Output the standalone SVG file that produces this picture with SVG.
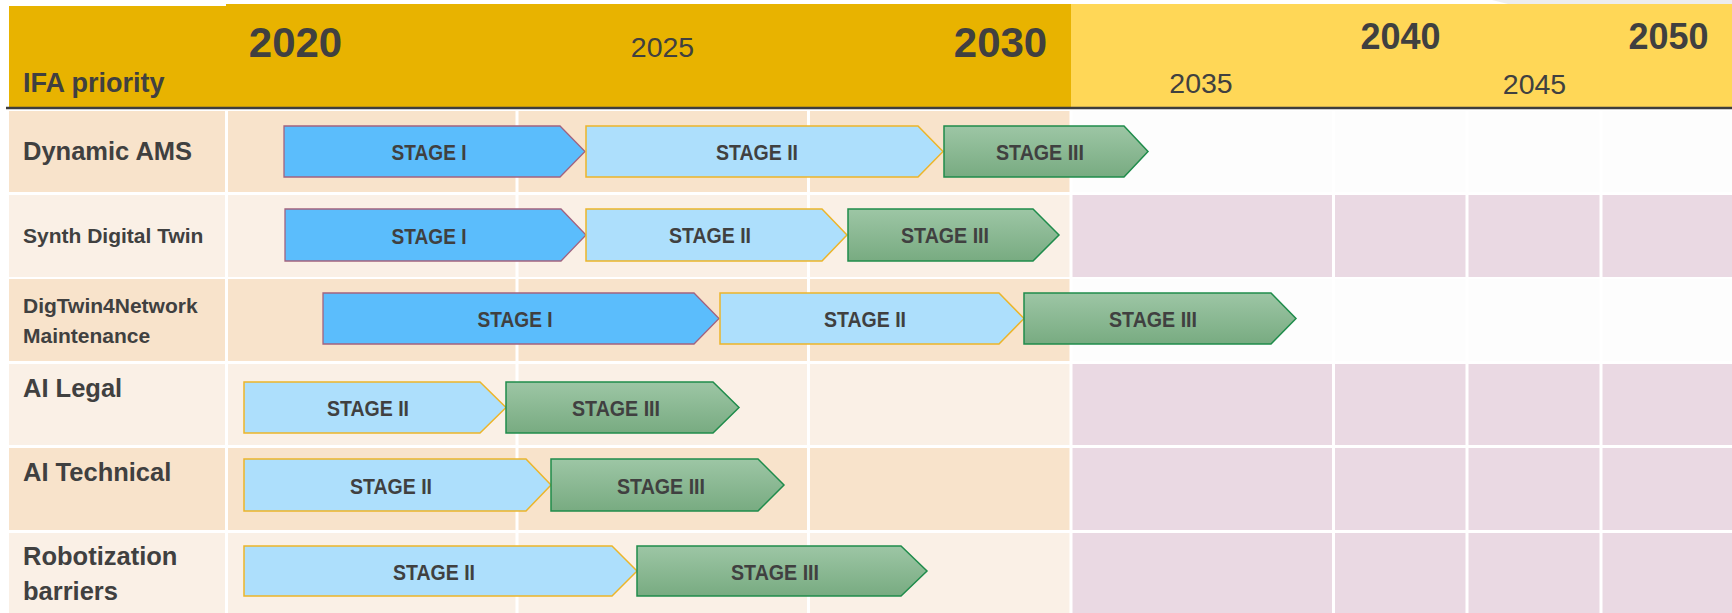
<svg xmlns="http://www.w3.org/2000/svg" width="1732" height="613" viewBox="0 0 1732 613">
<style>
.t{font-family:"Liberation Sans",Arial,sans-serif;fill:#404040}
.b{font-weight:bold}
.lbl{font-family:"Liberation Sans",Arial,sans-serif;font-weight:bold;fill:#404040}
.st{font-family:"Liberation Sans",Arial,sans-serif;font-weight:bold;font-size:22.5px;fill:#404040;text-anchor:middle}
.s1{fill:#5bbdfc;stroke:#a2637f;stroke-width:1.3}
.s2{fill:#addffc;stroke:#ecb52a;stroke-width:1.5}
.s3{fill:url(#g3);stroke:#1f8c4b;stroke-width:1.5}
.beige{fill:#f8e3cb}
.light{fill:#faf0e6}
.pink{fill:#ead9e3}
.wh{fill:#fdfdfd}
.sep{stroke:#ffffff;stroke-width:3}
</style>
<defs>
<linearGradient id="g3" x1="0" y1="0" x2="0" y2="1">
<stop offset="0" stop-color="#9dc6a5"/>
<stop offset="1" stop-color="#78ab81"/>
</linearGradient>
</defs>
<rect x="0" y="0" width="1732" height="613" fill="#ffffff"/>
<polygon points="1492,0 1732,0 1732,4 1508,4" fill="#ededed"/>
<!-- header -->
<g id="header">
<rect x="9" y="6" width="218" height="102" fill="#e8b300"/>
<rect x="226" y="4" width="845" height="104" fill="#e8b300"/>
<rect x="1071" y="4" width="661" height="104" fill="#ffd757"/>
<line x1="6" y1="108" x2="1732" y2="108" stroke="#3d3d3d" stroke-width="2.6"/>
<text class="lbl" x="23" y="92" font-size="27">IFA priority</text>
<text class="t b" x="295.5" y="57" font-size="42" text-anchor="middle">2020</text>
<text class="t" x="662.5" y="57" font-size="28.5" text-anchor="middle">2025</text>
<text class="t b" x="1000.5" y="57" font-size="42" text-anchor="middle">2030</text>
<text class="t" x="1201" y="93" font-size="28.5" text-anchor="middle">2035</text>
<text class="t b" x="1400.5" y="49" font-size="36" text-anchor="middle">2040</text>
<text class="t" x="1534.5" y="94" font-size="28.5" text-anchor="middle">2045</text>
<text class="t b" x="1668.5" y="49" font-size="36" text-anchor="middle">2050</text>
</g>
<!-- row backgrounds -->
<g id="grid">
<rect class="beige" x="9" y="111" width="1062" height="81"/>
<rect class="wh" x="1071" y="111" width="661" height="81"/>
<rect class="light" x="9" y="195" width="1062" height="82"/>
<rect class="pink" x="1072" y="195" width="660" height="82"/>
<rect class="beige" x="9" y="279" width="1062" height="82"/>
<rect class="wh" x="1071" y="279" width="661" height="82"/>
<rect class="light" x="9" y="364" width="1062" height="81"/>
<rect class="pink" x="1072" y="364" width="660" height="81"/>
<rect class="beige" x="9" y="448" width="1062" height="82"/>
<rect class="pink" x="1072" y="448" width="660" height="82"/>
<rect class="light" x="9" y="533" width="1062" height="80"/>
<rect class="pink" x="1072" y="533" width="660" height="80"/>
<line class="sep" x1="226.5" y1="110" x2="226.5" y2="613"/>
<line class="sep" x1="517" y1="110" x2="517" y2="613"/>
<line class="sep" x1="808.5" y1="110" x2="808.5" y2="613"/>
<line class="sep" x1="1071" y1="110" x2="1071" y2="613" stroke-width="2"/>
<line class="sep" x1="1333.5" y1="110" x2="1333.5" y2="613"/>
<line class="sep" x1="1467" y1="110" x2="1467" y2="613"/>
<line class="sep" x1="1601" y1="110" x2="1601" y2="613"/>
</g>
<!-- row labels -->
<g id="labels">
<text class="lbl" x="23" y="160" font-size="25.5">Dynamic AMS</text>
<text class="lbl" x="23" y="243" font-size="21">Synth Digital Twin</text>
<text class="lbl" x="23" y="313" font-size="21">DigTwin4Network</text>
<text class="lbl" x="23" y="343" font-size="21">Maintenance</text>
<text class="lbl" x="23" y="397" font-size="25.5">AI Legal</text>
<text class="lbl" x="23" y="481" font-size="25.5">AI Technical</text>
<text class="lbl" x="23" y="565" font-size="25.5">Robotization</text>
<text class="lbl" x="23" y="600" font-size="25.5">barriers</text>
</g>
<!-- row 1 -->
<g id="ams-s1"><polygon class="s1" points="284,126 560,126 585,151.5 560,177 284,177"/><text class="st" x="429" y="160" textLength="75" lengthAdjust="spacingAndGlyphs">STAGE I</text></g>
<g id="ams-s2"><polygon class="s2" points="586,126 918,126 943,151.5 918,177 586,177"/><text class="st" x="757" y="160" textLength="82" lengthAdjust="spacingAndGlyphs">STAGE II</text></g>
<g id="ams-s3"><polygon class="s3" points="944,126 1124,126 1148,151.5 1124,177 944,177"/><text class="st" x="1040" y="160" textLength="88" lengthAdjust="spacingAndGlyphs">STAGE III</text></g>
<!-- row 2 -->
<g id="sdt-s1"><polygon class="s1" points="285,209 561,209 586,235 561,261 285,261"/><text class="st" x="429" y="244" textLength="75" lengthAdjust="spacingAndGlyphs">STAGE I</text></g>
<g id="sdt-s2"><polygon class="s2" points="586,209 822,209 847,235 822,261 586,261"/><text class="st" x="710" y="243" textLength="82" lengthAdjust="spacingAndGlyphs">STAGE II</text></g>
<g id="sdt-s3"><polygon class="s3" points="848,209 1033,209 1059,235 1033,261 848,261"/><text class="st" x="945" y="243" textLength="88" lengthAdjust="spacingAndGlyphs">STAGE III</text></g>
<!-- row 3 -->
<g id="dtn-s1"><polygon class="s1" points="323,293 694,293 719,318.5 694,344 323,344"/><text class="st" x="515" y="327" textLength="75" lengthAdjust="spacingAndGlyphs">STAGE I</text></g>
<g id="dtn-s2"><polygon class="s2" points="720,293 999,293 1024,318.5 999,344 720,344"/><text class="st" x="865" y="327" textLength="82" lengthAdjust="spacingAndGlyphs">STAGE II</text></g>
<g id="dtn-s3"><polygon class="s3" points="1024,293 1271,293 1296,318.5 1271,344 1024,344"/><text class="st" x="1153" y="327" textLength="88" lengthAdjust="spacingAndGlyphs">STAGE III</text></g>
<!-- row 4 -->
<g id="legal-s2"><polygon class="s2" points="244,382 480,382 506,407.5 480,433 244,433"/><text class="st" x="368" y="416" textLength="82" lengthAdjust="spacingAndGlyphs">STAGE II</text></g>
<g id="legal-s3"><polygon class="s3" points="506,382 713,382 739,407.5 713,433 506,433"/><text class="st" x="616" y="416" textLength="88" lengthAdjust="spacingAndGlyphs">STAGE III</text></g>
<!-- row 5 -->
<g id="tech-s2"><polygon class="s2" points="244,459 526,459 551,485 526,511 244,511"/><text class="st" x="391" y="494" textLength="82" lengthAdjust="spacingAndGlyphs">STAGE II</text></g>
<g id="tech-s3"><polygon class="s3" points="551,459 758,459 784,485 758,511 551,511"/><text class="st" x="661" y="494" textLength="88" lengthAdjust="spacingAndGlyphs">STAGE III</text></g>
<!-- row 6 -->
<g id="robot-s2"><polygon class="s2" points="244,546 612,546 637,571 612,596 244,596"/><text class="st" x="434" y="580" textLength="82" lengthAdjust="spacingAndGlyphs">STAGE II</text></g>
<g id="robot-s3"><polygon class="s3" points="637,546 901,546 927,571 901,596 637,596"/><text class="st" x="775" y="580" textLength="88" lengthAdjust="spacingAndGlyphs">STAGE III</text></g>
</svg>
